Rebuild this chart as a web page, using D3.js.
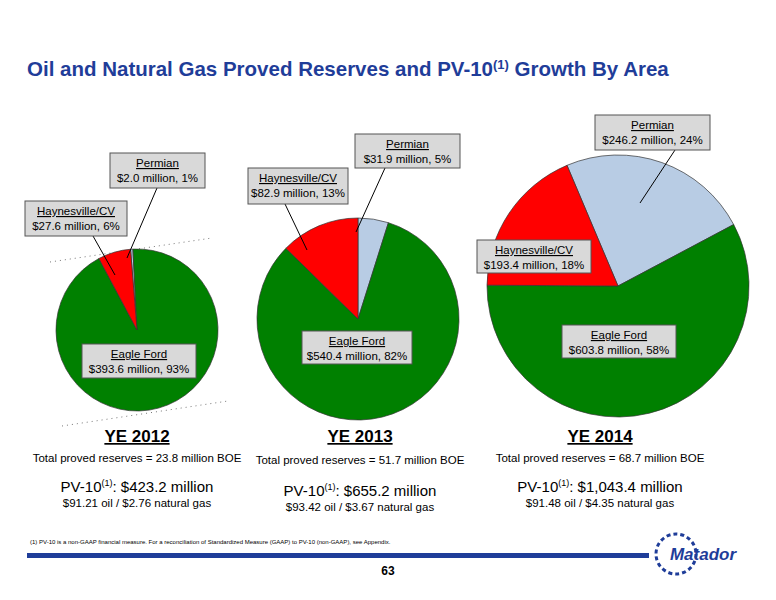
<!DOCTYPE html><html><head><meta charset="utf-8"><script src="https://cdn.jsdelivr.net/npm/d3@7"></script>
<style>body{margin:0;background:#fff}text{font-family:"Liberation Sans",Arial,sans-serif}</style></head><body><svg id="c" width="776" height="600"></svg><script>
const areas=["Permian","Eagle Ford","Haynesville/CV"];
const colors=["#b8cce4","#008000","#ff0000"];
const years=["YE 2012","YE 2013","YE 2014"];
const pv10=[[2.0,393.6,27.6],[31.9,540.4,82.9],[246.2,603.8,193.4]];
const pct=[[1,93,6],[5,82,13],[24,58,18]];
const totals=["23.8","51.7","68.7"];
const pvTotal=["$423.2 million","$655.2 million","$1,043.4 million"];
const prices=["$91.21 oil / $2.76 natural gas","$93.42 oil / $3.67 natural gas","$91.48 oil / $4.35 natural gas"];
const svg=d3.select("#c");
const blue="#1f3d99";
svg.append("text").attr("x",27).attr("y",76).attr("fill",blue).attr("font-size",20.5).attr("font-weight","bold")
 .html('Oil and Natural Gas Proved Reserves and PV-10<tspan dy="-7" font-size="13">(1)</tspan><tspan dy="7"> Growth By Area</tspan>');
const geo=[{cx:137,cy:330,r:81,sa:-0.08,tx:137,ty:[442,462,492,507]},{cx:358,cy:319,r:101,sa:0,tx:360,ty:[442,464,496,511]},{cx:618,cy:286,r:131,sa:-0.40,tx:600,ty:[442,462,492,507]}];
[[50,262,212,238],[62,426,228,401]].forEach(l=>svg.append("line").attr("x1",l[0]).attr("y1",l[1]).attr("x2",l[2]).attr("y2",l[3]).attr("stroke","#777").attr("stroke-dasharray","1,4"));
const boxes=[
 [[110,153,95,35],[82,344,114,34],[25,201,102,35]],
 [[355,134,105,34],[302,331,110,33],[248,168,100,36]],
 [[595,115,115,35],[562,325,114,33],[477,240,114,33]]];
const leaders=[[[157,188,127,258],null,[93,236,115,275]],[[385,168,356,232],null,[285,204,307,250]],[[675,150,640,203],null,null]];
geo.forEach((g,i)=>{
 const arcs=d3.pie().sort(null).startAngle(g.sa).endAngle(g.sa+2*Math.PI)(pv10[i]);
 const arc=d3.arc().innerRadius(0).outerRadius(g.r);
 const gg=svg.append("g").attr("transform",`translate(${g.cx},${g.cy})`);
 gg.selectAll("path").data(arcs).join("path").attr("d",arc).attr("fill",(d,j)=>colors[j]).attr("stroke","#333").attr("stroke-width",0.7);
 leaders[i].forEach(l=>{if(l)svg.append("line").attr("x1",l[0]).attr("y1",l[1]).attr("x2",l[2]).attr("y2",l[3]).attr("stroke","#000").attr("stroke-width",1);});
 boxes[i].forEach((b,j)=>{
  svg.append("rect").attr("x",b[0]).attr("y",b[1]).attr("width",b[2]).attr("height",b[3]).attr("fill","#d9d9d9").attr("stroke","#555");
  const cx=b[0]+b[2]/2;
  svg.append("text").attr("x",cx).attr("y",b[1]+14).attr("text-anchor","middle").attr("font-size",11.5).attr("text-decoration","underline").text(areas[j]);
  svg.append("text").attr("x",cx).attr("y",b[1]+29).attr("text-anchor","middle").attr("font-size",11.5).text(`$${pv10[i][j].toFixed(1)} million, ${pct[i][j]}%`);
 });
 svg.append("text").attr("x",g.tx).attr("y",g.ty[0]).attr("text-anchor","middle").attr("font-size",17).attr("font-weight","bold").attr("text-decoration","underline").text(years[i]);
 svg.append("text").attr("x",g.tx).attr("y",g.ty[1]).attr("text-anchor","middle").attr("font-size",11.5).text(`Total proved reserves = ${totals[i]} million BOE`);
 svg.append("text").attr("x",g.tx).attr("y",g.ty[2]).attr("text-anchor","middle").attr("font-size",15).html(`PV-10<tspan dy="-6" font-size="9">(1)</tspan><tspan dy="6">: ${pvTotal[i]}</tspan>`);
 svg.append("text").attr("x",g.tx).attr("y",g.ty[3]).attr("text-anchor","middle").attr("font-size",11.5).text(prices[i]);
});
svg.append("text").attr("x",30).attr("y",544).attr("font-size",6).text("(1)   PV-10 is a non-GAAP financial measure. For a reconciliation of Standardized Measure (GAAP) to PV-10 (non-GAAP), see Appendix.");
svg.append("rect").attr("x",27).attr("y",553).attr("width",622).attr("height",5).attr("fill",blue);
svg.append("text").attr("x",388).attr("y",575).attr("text-anchor","middle").attr("font-size",12).attr("font-weight","bold").text("63");
svg.append("text").attr("x",703).attr("y",560).attr("text-anchor","middle").attr("font-size",17).attr("font-weight","bold").attr("font-style","italic").attr("fill",blue).text("Matador");
svg.append("circle").attr("cx",676).attr("cy",554).attr("r",20).attr("fill","none").attr("stroke",blue).attr("stroke-width",3).attr("stroke-dasharray","4,3");
</script></body></html>
